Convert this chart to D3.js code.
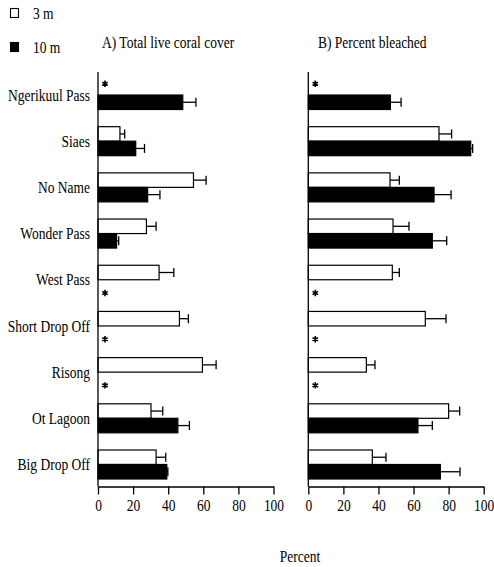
<!DOCTYPE html>
<html>
<head>
<meta charset="utf-8">
<script src="https://cdn.jsdelivr.net/npm/d3@7"></script>
<style>
	html, body { margin: 0; padding: 0; background: #fff; }
	svg text { font-family: "Liberation Serif", "Times New Roman", serif; font-size: 13.5px; fill: #000; }
</style>
</head>
<body>
<svg id="chart" width="494" height="567"></svg>
<script>
'use strict';

	// Sites, top to bottom
	var arraySites = ['Ngerikuul Pass','Siaes','No Name','Wonder Pass','West Pass','Short Drop Off','Risong','Ot Lagoon','Big Drop Off'];
	var arrayDepths = ['3 m','10 m'];
	var arrayTicks = [0,20,40,60,80,100];

	// A) Total live coral cover (null = not sampled, marked with *)
	var arrayCoverShallow    = [null, 12.5, 54.4, 27.6, 34.8, 46.4, 59.5, 30.2, 33.1];
	var arrayCoverShallowErr = [null,  2.7,  7.2,  5.5,  8.4,  5.1,  7.8,  6.7,  5.5];
	var arrayCoverDeep       = [48.3, 21.5, 28.3, 10.6, null, null, null, 45.5, 39.2];
	var arrayCoverDeepErr    = [ 7.5,  5.0,  7.0,  1.2, null, null, null,  6.6,  0.6];

	// B) Percent bleached
	var arrayBleachShallow    = [null, 74.5, 46.6, 48.3, 47.9, 66.7, 33.1, 80.0, 36.5];
	var arrayBleachShallowErr = [null,  7.2,  5.3,  9.1,  4.0, 11.8,  4.9,  6.3,  7.8];
	var arrayBleachDeep       = [46.8, 92.6, 71.7, 70.7, null, null, null, 62.5, 75.3];
	var arrayBleachDeepErr    = [ 6.1,  1.1,  9.7,  8.2, null, null, null,  8.2, 11.2];

	var svg = d3.select('#chart');
	var fAxisY = 486.5;
	var fAxisTop = 72;

	var yBand = d3.scaleBand()
		.domain(arraySites)
		.range([80.5, 479])
		.paddingInner(0.372)
		.paddingOuter(0);

	var yDepth = d3.scaleBand()
		.domain(arrayDepths)
		.range([0, yBand.bandwidth()]);

	function AddText(sel,strText,fX,fY,strAnchor)
	{
		return sel.append('text')
			.attr('transform','translate('+fX+','+fY+') scale(1,1.25)')
			.attr('text-anchor',strAnchor)
			.text(strText);
	}

	function BuildRows(arrayShallow,arrayShallowErr,arrayDeep,arrayDeepErr)
	{
		var arrayRows = [];
		arraySites.forEach( function(strSite,i)
		{
			arrayRows.push({site: strSite, depth: '3 m', value: arrayShallow[i], err: arrayShallowErr[i]});
			arrayRows.push({site: strSite, depth: '10 m', value: arrayDeep[i], err: arrayDeepErr[i]});
		});
		return arrayRows;
	}

	function DrawPanel(fLeft,fRight,strTitle,fTitleX,arrayRows)
	{
		var x = d3.scaleLinear().domain([0,100]).range([fLeft,fRight]);
		var g = svg.append('g');

		AddText(g,strTitle,fTitleX,48,'start');

		var arrayPresent = arrayRows.filter(function(d) { return d.value != null; });
		var arrayMissing = arrayRows.filter(function(d) { return d.value == null; });

		// error bars
		var sErr = g.selectAll('g.err')
			.data(arrayPresent)
			.enter()
				.append('g')
				.attr('class','err');

		sErr.append('line')
			.attr('x1', function(d) { return x(d.value); })
			.attr('x2', function(d) { return x(d.value + d.err); })
			.attr('y1', function(d) { return yBand(d.site) + yDepth(d.depth) + yDepth.bandwidth()/2; })
			.attr('y2', function(d) { return yBand(d.site) + yDepth(d.depth) + yDepth.bandwidth()/2; })
			.attr('stroke','#000')
			.attr('stroke-width',1.3);

		sErr.append('line')
			.attr('x1', function(d) { return x(d.value + d.err); })
			.attr('x2', function(d) { return x(d.value + d.err); })
			.attr('y1', function(d) { return yBand(d.site) + yDepth(d.depth) + yDepth.bandwidth()/2 - 4.5; })
			.attr('y2', function(d) { return yBand(d.site) + yDepth(d.depth) + yDepth.bandwidth()/2 + 4.5; })
			.attr('stroke','#000')
			.attr('stroke-width',1.3);

		// bars
		g.selectAll('rect.bar')
			.data(arrayPresent)
			.enter()
				.append('rect')
				.attr('class','bar')
				.attr('x', x(0))
				.attr('y', function(d) { return yBand(d.site) + yDepth(d.depth); })
				.attr('width', function(d) { return x(d.value) - x(0); })
				.attr('height', yDepth.bandwidth())
				.attr('fill', function(d) { return d.depth == '3 m' ? '#fff' : '#000'; })
				.attr('stroke','#000')
				.attr('stroke-width',1.2);

		// asterisks where a depth was not sampled
		g.selectAll('path.star')
			.data(arrayMissing)
			.enter()
				.append('path')
				.attr('class','star')
				.attr('d', d3.symbol(d3.symbolAsterisk, 28))
				.attr('transform', function(d)
				{
					var fY = yBand(d.site) + yDepth(d.depth) + yDepth.bandwidth()/2 + (d.depth == '3 m' ? -4 : 6);
					return 'translate('+(x(0)+7)+','+fY+')';
				})
				.attr('stroke','#000')
				.attr('stroke-width',1.6);

		// vertical axis line
		g.append('line')
			.attr('x1',x(0)).attr('x2',x(0))
			.attr('y1',fAxisTop).attr('y2',fAxisY)
			.attr('stroke','#000')
			.attr('stroke-width',1.3);

		// bottom axis
		var gAxis = g.append('g')
			.attr('transform','translate(0,'+fAxisY+')')
			.call(d3.axisBottom(x).tickValues(arrayTicks).tickSize(8).tickSizeOuter(0));

		gAxis.select('.domain').attr('stroke-width',1.3);
		gAxis.selectAll('.tick line').attr('stroke-width',1.3);
		gAxis.selectAll('.tick text')
			.attr('y',null)
			.attr('dy',null)
			.attr('transform','translate(0,24) scale(1,1.25)')
			.attr('font-family',null)
			.attr('font-size',null)
			.attr('fill',null);
	}

	DrawPanel(98,273.5,'A) Total live coral cover',102,
		BuildRows(arrayCoverShallow,arrayCoverShallowErr,arrayCoverDeep,arrayCoverDeepErr));
	DrawPanel(308.3,483.7,'B) Percent bleached',318,
		BuildRows(arrayBleachShallow,arrayBleachShallowErr,arrayBleachDeep,arrayBleachDeepErr));

	// site labels
	arraySites.forEach( function(strSite)
	{
		AddText(svg,strSite,90,yBand(strSite) + yBand.bandwidth()/2 + 5.6,'end');
	});

	// legend
	var sLegend = svg.append('g');
	arrayDepths.forEach( function(strDepth,i)
	{
		var fY = 13 + i*34;
		sLegend.append('rect')
			.attr('x',10.5).attr('y',fY - 4.5)
			.attr('width',8).attr('height',9)
			.attr('fill', i == 0 ? '#fff' : '#000')
			.attr('stroke','#000')
			.attr('stroke-width',1.1);
		AddText(sLegend,strDepth,33,fY + 5.5,'start');
	});

	AddText(svg,'Percent',300,562,'middle');
</script>
</body>
</html>
